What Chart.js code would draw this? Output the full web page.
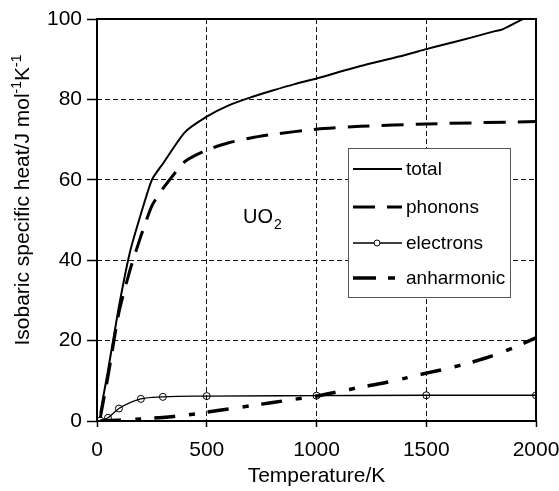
<!DOCTYPE html>
<html>
<head>
<meta charset="utf-8">
<script src="https://cdn.jsdelivr.net/npm/chart.js@4/dist/chart.umd.min.js"></script>
<style>
  html, body { margin: 0; padding: 0; background: #fff; }
  canvas { display: block; }
</style>
</head>
<body>
<canvas id="cpChart" width="559" height="491"></canvas>
<script>
// values (T in K, Cp in J mol-1 K-1)
const totalT = [15, 50, 100, 150, 200, 250, 300, 400, 500, 600, 700, 800, 900, 1000, 1200, 1400, 1500, 1600, 1700, 1800, 1850, 2000];
const totalCp = [2, 12.5, 28.5, 42, 51.5, 60, 64, 71.8, 75.7, 78.5, 80.5, 82.2, 83.8, 85.2, 88.3, 91, 92.5, 93.9, 95.3, 96.8, 97.5, 101.7];

const phononT = [15, 50, 100, 150, 200, 250, 300, 400, 500, 600, 700, 800, 1000, 1200, 1500, 2000];
const phononCp = [0.8, 11, 27, 37.5, 46, 53.5, 57.8, 64.5, 67.4, 69.2, 70.4, 71.3, 72.6, 73.3, 73.9, 74.5];

const electronT = [15, 50, 100, 200, 300, 500, 1000, 1500, 2000];
const electronCp = [0.1, 0.8, 3.1, 5.5, 6.0, 6.2, 6.3, 6.4, 6.4];

const anharmT = [15, 100, 200, 300, 400, 500, 600, 700, 800, 900, 1000, 1100, 1200, 1300, 1400, 1500, 1600, 1700, 1800, 1900, 2000];
const anharmCp = [0, 0.2, 0.5, 0.9, 1.4, 2.2, 3.0, 3.8, 4.6, 5.4, 6.2, 7.3, 8.4, 9.4, 10.6, 11.9, 13.1, 14.5, 16.2, 18.3, 20.7];

const seriesNames = ['total', 'phonons', 'electrons', 'anharmonic'];
const xTitle = 'Temperature/K';
const yTitleParts = [['Isobaric specific heat/J mol', false], ['-1', true], ['K', false], ['-1', true]];

const FONT = '"Liberation Sans", Arial, Helvetica, sans-serif';

function pairs(xs, ys) {
    return xs.map((x, i) => ({ x: x, y: ys[i] }));
}

// frame, y title, compound label and the boxed legend
const decor = {
    id: 'decor',
    afterDraw(chart) {
        const { ctx, chartArea: a } = chart;
        ctx.save();
        ctx.setLineDash([]);
        ctx.strokeStyle = '#000';
        ctx.lineWidth = 2;
        ctx.strokeRect(a.left, a.top, a.right - a.left, a.bottom - a.top);

        // y axis title with superscripts
        ctx.fillStyle = '#000';
        ctx.textBaseline = 'alphabetic';
        ctx.textAlign = 'left';
        let w = 0;
        yTitleParts.forEach(([t, sup]) => {
            ctx.font = (sup ? 14 : 21) + 'px ' + FONT;
            w += ctx.measureText(t).width;
        });
        ctx.save();
        ctx.translate(29, 200 + w / 2);
        ctx.rotate(-Math.PI / 2);
        let pos = 0;
        yTitleParts.forEach(([t, sup]) => {
            ctx.font = (sup ? 14 : 21) + 'px ' + FONT;
            ctx.fillText(t, pos, sup ? -8 : 0);
            pos += ctx.measureText(t).width;
        });
        ctx.restore();

        // UO2 label
        ctx.font = '20px ' + FONT;
        ctx.fillText('UO', 243, 223);
        const uw = ctx.measureText('UO').width;
        ctx.font = '14px ' + FONT;
        ctx.fillText('2', 243 + uw + 1, 229);

        // legend
        const bx = 348, by = 148, bw = 162, bh = 149;
        ctx.fillStyle = '#fff';
        ctx.fillRect(bx, by, bw, bh);
        ctx.strokeStyle = '#555';
        ctx.lineWidth = 1;
        ctx.strokeRect(bx + 0.5, by + 0.5, bw, bh);
        const rows = [169, 207, 243, 278];
        chart.data.datasets.forEach((ds, i) => {
            const y = rows[i];
            ctx.strokeStyle = '#000';
            ctx.lineWidth = ds.borderWidth;
            ctx.setLineDash(ds.legendDash || []);
            ctx.beginPath();
            ctx.moveTo(353, y);
            ctx.lineTo(402, y);
            ctx.stroke();
            ctx.setLineDash([]);
            if (ds.pointRadius > 0) {
                ctx.fillStyle = '#fff';
                ctx.lineWidth = 1;
                ctx.beginPath();
                ctx.arc(377, y, ds.pointRadius - 0.5, 0, Math.PI * 2);
                ctx.fill();
                ctx.stroke();
            }
            ctx.fillStyle = '#000';
            ctx.font = '19px ' + FONT;
            ctx.textBaseline = 'middle';
            ctx.fillText(ds.label, 406, y + 1);
        });
        ctx.restore();
    }
};

const ctx = document.getElementById('cpChart').getContext('2d');
new Chart(ctx, {
    type: 'line',
    data: {
        datasets: [
            {
                label: seriesNames[0],
                data: pairs(totalT, totalCp),
                borderColor: '#000',
                borderWidth: 2,
                pointRadius: 0,
                tension: 0.2
            },
            {
                label: seriesNames[1],
                data: pairs(phononT, phononCp),
                borderColor: '#000',
                borderWidth: 3,
                borderDash: [22, 12],
                legendDash: [22, 12],
                pointRadius: 0,
                tension: 0.2
            },
            {
                label: seriesNames[2],
                data: pairs(electronT, electronCp),
                borderColor: '#000',
                borderWidth: 1.3,
                pointRadius: 3.5,
                pointBorderWidth: 1,
                pointBorderColor: '#000',
                pointBackgroundColor: 'rgba(0,0,0,0)',
                cubicInterpolationMode: 'monotone'
            },
            {
                label: seriesNames[3],
                data: pairs(anharmT, anharmCp),
                borderColor: '#000',
                borderWidth: 3.5,
                borderDash: [21, 14, 6, 13],
                legendDash: [23, 12, 7, 20],
                pointRadius: 0,
                tension: 0.2
            }
        ]
    },
    options: {
        responsive: false,
        animation: false,
        layout: { padding: { top: 19, right: 23, left: 0, bottom: 0 } },
        plugins: {
            legend: { display: false },
            tooltip: { enabled: false }
        },
        scales: {
            x: {
                type: 'linear',
                min: 0,
                max: 2000,
                ticks: { stepSize: 500, color: '#000', font: { size: 21, family: FONT }, padding: 11, maxRotation: 0, callback: v => String(v) },
                grid: { color: '#111', lineWidth: 1, tickLength: 6, tickColor: '#000', tickWidth: 1.5 },
                border: { display: false, dash: [5, 3] },
                title: { display: true, text: xTitle, color: '#000', font: { size: 21, family: FONT }, padding: { top: 0, bottom: 2 } },
                afterFit(scale) {
                    scale.height = 70;
                    scale.paddingLeft = 0;
                    scale.paddingRight = 0;
                }
            },
            y: {
                min: 0,
                max: 100,
                ticks: { stepSize: 20, color: '#000', font: { size: 21, family: FONT }, padding: 5, callback: v => String(v) },
                grid: { color: '#111', lineWidth: 1, tickLength: 10, tickColor: '#000', tickWidth: 1.5 },
                border: { display: false, dash: [5, 3] },
                afterFit(scale) {
                    scale.width = 97;
                    scale.paddingTop = 0;
                    scale.paddingBottom = 0;
                }
            }
        }
    },
    plugins: [decor]
});
</script>
</body>
</html>
